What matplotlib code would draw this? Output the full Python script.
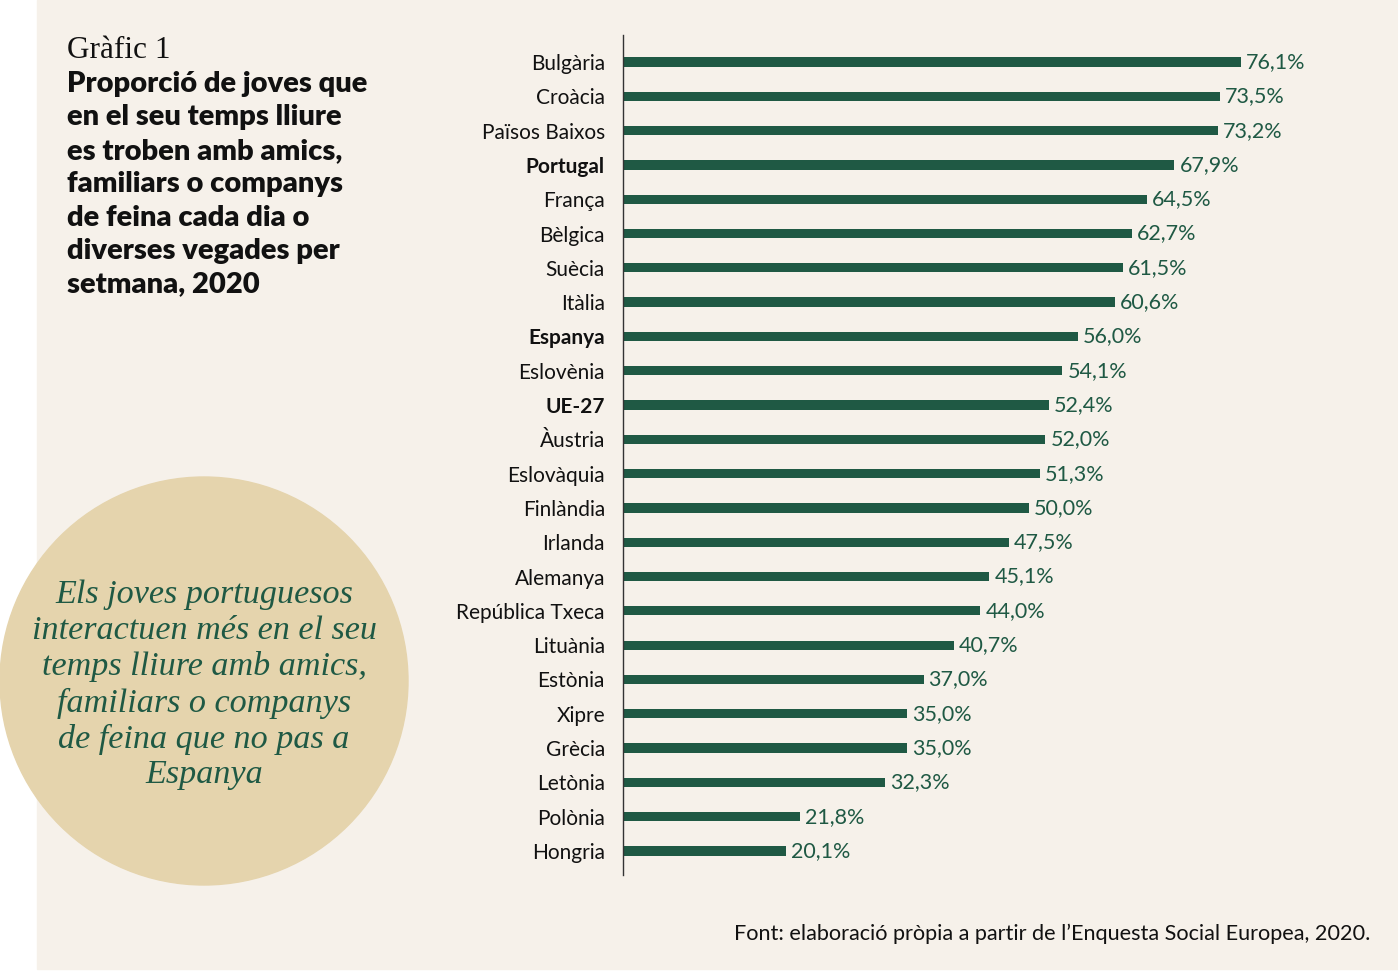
import matplotlib.pyplot as plt
from matplotlib.patches import Rectangle, Circle

# data
countries = ["Bulgària", "Croàcia", "Països Baixos", "Portugal", "França", "Bèlgica",
             "Suècia", "Itàlia", "Espanya", "Eslovènia", "UE-27", "Àustria",
             "Eslovàquia", "Finlàndia", "Irlanda", "Alemanya", "República Txeca",
             "Lituània", "Estònia", "Xipre", "Grècia", "Letònia", "Polònia", "Hongria"]
values = [76.1, 73.5, 73.2, 67.9, 64.5, 62.7, 61.5, 60.6, 56.0, 54.1, 52.4, 52.0,
          51.3, 50.0, 47.5, 45.1, 44.0, 40.7, 37.0, 35.0, 35.0, 32.3, 21.8, 20.1]
highlighted = ["Portugal", "Espanya", "UE-27"]

title_small = "Gràfic 1"
title_lines = ["Proporció de joves que", "en el seu temps lliure", "es troben amb amics,",
               "familiars o companys", "de feina cada dia o", "diverses vegades per",
               "setmana, 2020"]
quote_lines = ["Els joves portuguesos", "interactuen més en el seu", "temps lliure amb amics,",
               "familiars o companys", "de feina que no pas a", "Espanya"]
source = "Font: elaboració pròpia a partir de l’Enquesta Social Europea, 2020."

green = "#1f5944"
bg = "#f6f1ea"
tan = "#e5d4ad"
sans = "Lato"
serif = "Liberation Serif"

W, H = 1398, 971
fig = plt.figure(figsize=(W / 100, H / 100), dpi=100, facecolor="white")

# background layer in pixel coordinates
bgax = fig.add_axes([0, 0, 1, 1])
bgax.set_xlim(0, W)
bgax.set_ylim(H, 0)
bgax.axis("off")
bgax.add_patch(Rectangle((37, 0), W - 37, 969, color=bg, zorder=0))
bgax.add_patch(Circle((204, 681), 204, color=tan, zorder=1))

bgax.text(67, 50, title_small, fontsize=22.5, family=serif, va="center", ha="left", color="#111111")
for k, line in enumerate(title_lines):
  bgax.text(67, 84 + k * 33.4, line, fontsize=21, family=sans, fontweight="heavy",
            va="center", ha="left", color="#111111")

for k, line in enumerate(quote_lines):
  bgax.text(204, 595 + k * 36, line, fontsize=24.6, family=serif, style="italic",
            va="center", ha="center", color=green)

bgax.text(1370, 934, source, fontsize=15.6, family=sans, va="center", ha="right", color="#111111")

# bar chart
ax = fig.add_axes([623 / W, (H - 875) / H, (1354 - 623) / W, (875 - 35) / H])
ax.set_facecolor("none")
pos = list(range(len(countries)))
ax.barh(pos, values, height=0.27, color=green)
ax.set_xlim(0, 90)
ax.set_ylim(23.70, -0.787)
for s in ["top", "right", "bottom"]:
  ax.spines[s].set_visible(False)
ax.spines["left"].set_color("#333333")
ax.spines["left"].set_linewidth(1)
ax.set_xticks([])
ax.set_yticks(pos)
ax.set_yticklabels(countries)
ax.tick_params(axis="y", length=0, pad=13)
for lab in ax.get_yticklabels():
  lab.set_family(sans)
  lab.set_fontsize(15)
  lab.set_color("#111111")
  if lab.get_text() in highlighted:
    lab.set_fontweight("bold")

for i, v in enumerate(values):
  txt = "{:.1f}%".format(v).replace(".", ",")
  ax.annotate(txt, xy=(v, i), xytext=(5, 0), textcoords="offset pixels",
              va="center", ha="left", fontsize=15.5, family=sans, color=green)

fig.savefig("out.png", dpi=100, facecolor="white")
